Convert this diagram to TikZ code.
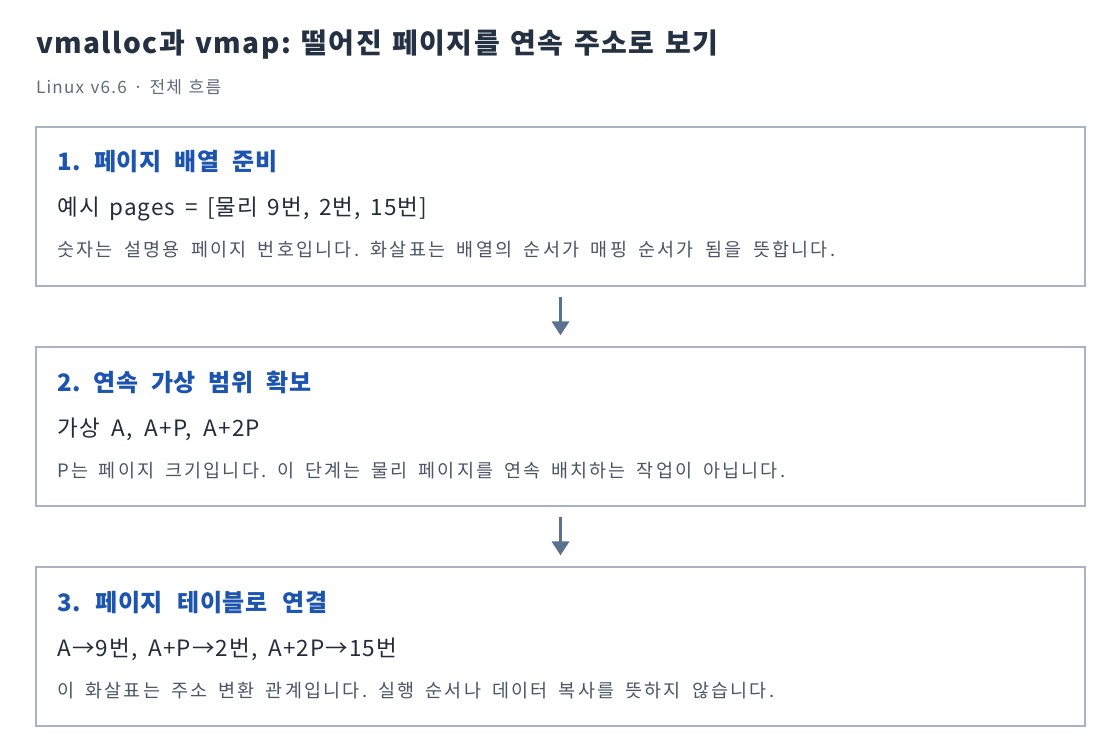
\documentclass[tikz,border=0pt]{standalone}
\usepackage{fontspec}
\setmainfont{Noto Sans CJK KR}
\newfontfamily\titlefam[LetterSpace=5]{Noto Sans CJK KR}
\newfontfamily\subfam[LetterSpace=7]{Noto Sans CJK KR}
\newfontfamily\headfam[LetterSpace=2]{Noto Sans CJK KR}
\newfontfamily\mainfam[LetterSpace=5]{Noto Sans CJK KR}
\newfontfamily\notefam[LetterSpace=12]{Noto Sans CJK KR}
\usetikzlibrary{arrows.meta}
\definecolor{titlec}{HTML}{243142}
\definecolor{subc}{HTML}{5F6B7A}
\definecolor{headc}{HTML}{1C54B0}
\definecolor{mainc}{HTML}{222C3A}
\definecolor{notec}{HTML}{4A5566}
\definecolor{borderc}{HTML}{A9B4C2}
\definecolor{arrowc}{HTML}{5A7190}
\newcommand{\fitw}[2]{\makebox[#1pt][s]{#2}}
\hbadness=10000 \hfuzz=50pt
\frenchspacing
\tikzset{
  stepbox/.style={draw=borderc, line width=1.2pt, fill=white, inner sep=0pt, minimum width=1049pt, minimum height=159pt},
  titletxt/.style={anchor=base west, inner sep=0pt, text=titlec, font=\titlefam\fontsize{28}{32}\selectfont\bfseries\frenchspacing},
  subtxt/.style={anchor=base west, inner sep=0pt, text=subc, font=\subfam\fontsize{17}{20}\selectfont\frenchspacing},
  headtxt/.style={anchor=base west, inner sep=0pt, text=headc, font=\headfam\fontsize{24}{28}\selectfont\bfseries\frenchspacing},
  maintxt/.style={anchor=base west, inner sep=0pt, text=mainc, font=\mainfam\fontsize{22.5}{26}\selectfont\frenchspacing},
  notetxt/.style={anchor=base west, inner sep=0pt, text=notec, font=\notefam\fontsize{18.5}{22}\selectfont\frenchspacing},
  flow/.style={draw=arrowc, line width=3.3pt, -{Triangle[width=17pt,length=14pt]}, shorten <=10pt, shorten >=11pt}
}
\begin{document}
\begin{tikzpicture}[x=1pt,y=-1pt]
\useasboundingbox[fill=white] (0,0) rectangle (1120,754);
\node[titletxt] (title) at (36,54) {\fitw{682}{vmalloc과 vmap: 떨어진 페이지를 연속 주소로 보기}};
\node[subtxt] (sub) at (36,94) {\fitw{185}{Linux v6.6 · 전체 흐름}};

\node[stepbox] (b1) at (560.5,206.5) {};
\node[stepbox] (b2) at (560.5,426.5) {};
\node[stepbox] (b3) at (560.5,646.5) {};

\node[headtxt] (h1) at (57,171) {\fitw{220}{1. 페이지 배열 준비}};
\node[maintxt] (m1) at (57,216) {\fitw{370}{예시 pages = [물리 9번, 2번, 15번]}};
\node[notetxt] (n1) at (57,257) {\fitw{778}{숫자는 설명용 페이지 번호입니다. 화살표는 배열의 순서가 매핑 순서가 됨을 뜻합니다.}};

\node[headtxt] (h2) at (57,391) {\fitw{254}{2. 연속 가상 범위 확보}};
\node[maintxt] (m2) at (57,436) {\fitw{203}{가상 A, A+P, A+2P}};
\node[notetxt] (n2) at (57,477) {\fitw{728}{P는 페이지 크기입니다. 이 단계는 물리 페이지를 연속 배치하는 작업이 아닙니다.}};

\node[headtxt] (h3) at (57,611) {\fitw{270}{3. 페이지 테이블로 연결}};
\node[maintxt] (m3) at (57,656) {\fitw{340}{A→9번, A+P→2번, A+2P→15번}};
\node[notetxt] (n3) at (57,697) {\fitw{717}{이 화살표는 주소 변환 관계입니다. 실행 순서나 데이터 복사를 뜻하지 않습니다.}};

\draw[flow] (b1.south) -- (b2.north);
\draw[flow] (b2.south) -- (b3.north);
\end{tikzpicture}
\end{document}
